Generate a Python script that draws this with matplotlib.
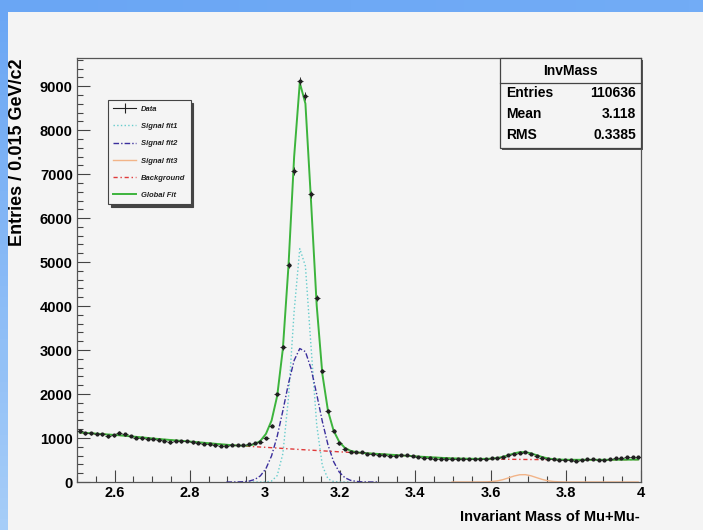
import numpy as np
import matplotlib
matplotlib.use('Agg')
import matplotlib.pyplot as plt
from matplotlib.patches import Rectangle
from matplotlib.lines import Line2D
from matplotlib.ticker import MultipleLocator

plt.rcParams['font.family'] = ['Liberation Sans', 'DejaVu Sans']

# histogramme : 100 bins de 0.015 GeV entre 2.5 et 4.0
X_MIN, X_MAX = 2.5, 4.0
BIN_WIDTH = 0.015
bin_centers = X_MIN + BIN_WIDTH * (np.arange(100) + 0.5)

counts = [
    1150, 1110, 1105, 1095, 1085, 1035, 1065, 1120, 1085, 1045,
    1010, 995, 985, 975, 960, 940, 900, 935, 925, 930,
    905, 895, 870, 855, 835, 825, 815, 850, 840, 845,
    860, 890, 920, 990, 1280, 1990, 3060, 4930, 7070, 9120,
    8780, 6540, 4190, 2530, 1620, 1165, 880, 760, 675, 680,
    675, 640, 640, 625, 614, 595, 600, 606, 612, 590,
    575, 553, 545, 530, 523, 520, 515, 520, 523, 518,
    515, 515, 525, 538, 550, 565, 610, 630, 670, 680,
    630, 585, 545, 530, 515, 505, 500, 490, 480, 510,
    515, 512, 508, 500, 520, 535, 545, 575, 560, 570,
]

# fond (pointillés rouges), lu aux centres des bins
background = [
    1125, 1116, 1107, 1098, 1089, 1080, 1071, 1062, 1050, 1038,
    1026, 1014, 1002, 988, 977, 967, 956, 946, 935, 925,
    914, 903, 892, 880, 869, 858, 847, 836, 828, 820,
    811, 803, 795, 788, 780, 772, 763, 755, 747, 739,
    731, 724, 716, 709, 701, 694, 686, 679, 672, 665,
    658, 651, 644, 637, 629, 621, 613, 605, 597, 589,
    578, 571, 564, 557, 550, 543, 537, 534, 531, 529,
    527, 525, 523, 521, 520, 518, 517, 515, 514, 512,
    511, 510, 509, 508, 507, 506, 505, 505, 505, 505,
    505, 505, 505, 505, 506, 506, 507, 508, 509, 510,
]

# signaux : premier bin + valeurs
sig1_first = 30
signal1 = [0, 0, 0, 2, 22, 146, 644, 1922, 3883, 5306,
           4907, 3071, 1300, 373, 72, 10, 1, 0, 0]
sig2_first = 26
signal2 = [0, 0, 2, 6, 20, 56, 138, 304, 596, 1042,
           1620, 2243, 2765, 3034, 2964, 2578, 1997, 1376, 845, 462,
           225, 97, 38, 13, 4, 1, 0, 0]
sig3_first = 66
signal3 = [0, 0, 0, 0, 0, 1, 3, 10, 25, 53,
           93, 136, 165, 167, 141, 99, 58, 28, 11, 4,
           1, 0, 0, 0, 0, 0, 0, 0, 0, 0,
           0, 0, 0, 0]

stats_labels = ['Entries', 'Mean', 'RMS']
stats_values = ['110636', '3.118', '0.3385']


def full(first, vals):
    arr = np.zeros(len(bin_centers))
    arr[first:first + len(vals)] = vals
    return arr


counts = np.array(counts, dtype=float)
background = np.array(background, dtype=float)
s1 = full(sig1_first, signal1)
s2 = full(sig2_first, signal2)
s3 = full(sig3_first, signal3)
global_fit = background + s1 + s2 + s3

W, H = 703, 530
BG = '#f4f4f4'


def fx(px):
    return px / W


def fy(py):
    return 1 - py / H


fig = plt.figure(figsize=(W / 100, H / 100), dpi=100, facecolor=BG)

# bandeaux bleus du cadre
ax_top = fig.add_axes([0, fy(12), 1, 12 / H])
ax_top.imshow(np.linspace(0, 1, 50)[None, :], aspect='auto',
              cmap=matplotlib.colors.LinearSegmentedColormap.from_list('t', ['#6aa6f4', '#72acf6']))
ax_top.axis('off')
ax_left = fig.add_axes([0, 0, 8 / W, 1])
ax_left.imshow(np.linspace(0, 1, 50)[:, None], aspect='auto',
               cmap=matplotlib.colors.LinearSegmentedColormap.from_list('l', ['#6aa6f4', '#a6cdf8']))
ax_left.axis('off')

ax = fig.add_axes([fx(77), fy(482), fx(641) - fx(77), (482 - 58) / H])
ax.set_facecolor(BG)

n1 = slice(sig1_first, sig1_first + len(signal1))
n2 = slice(sig2_first, sig2_first + len(signal2))
n3 = slice(sig3_first, sig3_first + len(signal3))

l_s1, = ax.plot(bin_centers[n1], s1[n1], ls=':', color='#66cccc', lw=1.0, label='Signal fit1')
l_s2, = ax.plot(bin_centers[n2], s2[n2], ls=(0, (4, 1.5, 1, 1.5)), color='#3a2e9c', lw=1.0, label='Signal fit2')
l_s3, = ax.plot(bin_centers[n3], s3[n3], ls='-', color='#f2b488', lw=1.0, label='Signal fit3')
l_bg, = ax.plot(bin_centers, background, ls=(0, (3, 2, 1, 2)), color='#e03a3a', lw=1.0, label='Background')
l_gf, = ax.plot(bin_centers, global_fit, ls='-', color='#3cb43c', lw=1.4, label='Global Fit')
ax.errorbar(bin_centers, counts, xerr=BIN_WIDTH / 2, yerr=np.sqrt(counts),
            fmt='o', ms=2.0, color='#202020', ecolor='#303030', elinewidth=0.7,
            capsize=0, zorder=5)
data_handle = Line2D([], [], color='#202020', lw=0.8, marker='|', ms=7, mew=0.8, label='Data')

ax.set_xlim(X_MIN, X_MAX)
ax.set_ylim(0, 9640)
ax.xaxis.set_major_locator(MultipleLocator(0.2))
ax.xaxis.set_minor_locator(MultipleLocator(0.05))
ax.yaxis.set_major_locator(MultipleLocator(1000))
ax.yaxis.set_minor_locator(MultipleLocator(200))
ax.tick_params(which='both', direction='in', top=False, right=False, width=0.8, color='#444444')
ax.tick_params(which='major', length=9, labelsize=10.5, pad=3)
ax.tick_params(which='minor', length=4.5)
ax.xaxis.set_major_formatter(matplotlib.ticker.FuncFormatter(lambda v, p: ('%g' % round(v, 2))))
for lab in ax.get_xticklabels() + ax.get_yticklabels():
    lab.set_fontweight('bold')
for s in ax.spines.values():
    s.set_color('#555555')
    s.set_linewidth(0.9)

fig.text(fx(18), fy(58), 'Entries / 0.015 GeV/c2', rotation=90, ha='center', va='top',
         fontsize=13, fontweight='bold')
fig.text(fx(640), fy(517), 'Invariant Mass of Mu+Mu-', ha='right', va='center',
         fontsize=10.5, fontweight='bold')

# légende
leg = ax.legend(handles=[data_handle, l_s1, l_s2, l_s3, l_bg, l_gf],
                loc='upper left', bbox_to_anchor=(fx(108), fy(100)),
                bbox_transform=fig.transFigure, borderaxespad=0,
                prop={'size': 5.5, 'style': 'italic', 'weight': 'bold'},
                fancybox=False, shadow={'color': '#444444', 'alpha': 1.0},
                facecolor=BG, edgecolor='#444444', framealpha=1,
                handlelength=3.0, handletextpad=0.6, labelspacing=1.3,
                borderpad=0.7)
leg.get_frame().set_linewidth(0.8)
for t in leg.get_texts():
    t.set_color('#222222')

# boîte de statistiques
x0, x1, y0, y1 = 500, 641, 58, 148
fig.add_artist(Rectangle((fx(x0 + 2), fy(y1 + 2)), fx(x1) - fx(x0), (y1 - y0) / H,
                         transform=fig.transFigure, facecolor='#555555', edgecolor='none'))
fig.add_artist(Rectangle((fx(x0), fy(y1)), fx(x1) - fx(x0), (y1 - y0) / H,
                         transform=fig.transFigure, facecolor=BG, edgecolor='#444444', lw=0.9))
fig.add_artist(Line2D([fx(x0), fx(x1)], [fy(83), fy(83)], transform=fig.transFigure,
                      color='#444444', lw=0.9))
fig.text(fx((x0 + x1) / 2), fy(71), 'InvMass', ha='center', va='center', fontsize=10, fontweight='bold')
for k, (name, val) in enumerate(zip(stats_labels, stats_values)):
    yy = fy(93 + k * 21)
    fig.text(fx(506), yy, name, ha='left', va='center', fontsize=10, fontweight='bold')
    fig.text(fx(636), yy, val, ha='right', va='center', fontsize=10, fontweight='bold')

fig.savefig('out.png', dpi=100, facecolor=BG)
